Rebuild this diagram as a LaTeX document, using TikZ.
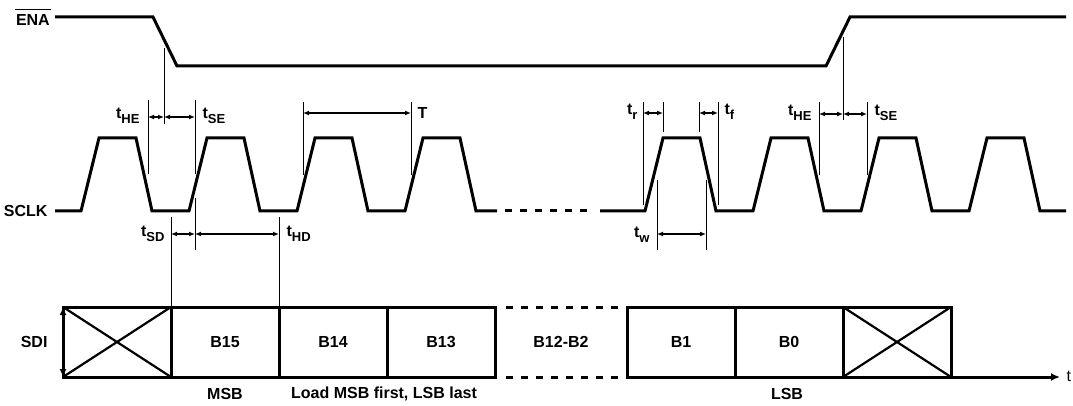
\documentclass[tikz,border=0pt]{standalone}
\usepackage{fontspec}
\setmainfont{Liberation Sans}
\usetikzlibrary{arrows.meta}
\newcommand{\tsub}[1]{t\raisebox{-0.32em}{\fontsize{13}{14}\selectfont #1}}

\begin{document}
\begin{tikzpicture}[x=1pt,y=-1pt,>={Latex[length=6pt,width=5pt]},
  font=\fontsize{16}{18}\selectfont\bfseries,
  sig/.style={line width=3pt},
  gap/.style={line width=3pt,dash pattern=on 7pt off 8pt},
  guide/.style={line width=0.8pt},
  span/.style={<->,line width=1.6pt},
  cell/.style={draw,line width=3pt,minimum width=108pt,minimum height=70pt,inner sep=0pt,outer sep=0pt}]
  \useasboundingbox (0,0) rectangle (1073,406);

  \node[anchor=east,inner sep=1pt] (ena) at (51,20) {ENA};
  \draw[line width=1.3pt] ([yshift=3.5pt]ena.north west) -- ([yshift=3.5pt]ena.north east);
  \node[anchor=east] (sclk) at (51,211) {SCLK};
  \node[anchor=east] (sdi) at (51,342) {SDI};

  \draw[sig] (55,17) -- (153,17) -- (177,66) -- (826,66) -- (850,17) -- (1066,17);
  \draw[sig] (55,211) foreach \r in {81,189,297,405} {-- (\r,211) -- (\r+18,138) -- (\r+55,138) -- (\r+71,211)} -- (497,211);
  \draw[gap] (505,211) -- (592,211);
  \draw[sig] (600,211) foreach \r in {645,753,861,969} {-- (\r,211) -- (\r+18,138) -- (\r+55,138) -- (\r+71,211)} -- (1066,211);

  \draw[guide] (164,48) -- (164,124);
  \draw[guide] (148,100) -- (148,174);
  \draw[guide] (195,100) -- (195,174);
  \coordinate (he1) at (148,117);
  \coordinate (en1) at (164,117);
  \coordinate (se1) at (195,117);
  \draw[span] (he1) -- (en1);
  \draw[span] (en1) -- (se1);
  \node[anchor=east] (the1) at (143,116) {\tsub{HE}};
  \node[anchor=west] (tse1) at (199,116) {\tsub{SE}};

  \draw[guide] (303,102) -- (303,175);
  \draw[guide] (411,102) -- (411,175);
  \coordinate (p1) at (303,113);
  \coordinate (p2) at (411,113);
  \draw[span] (p1) -- (p2);
  \node[anchor=west] (per) at (414,113) {T};

  \draw[guide] (643,102) -- (643,205);
  \draw[guide] (663,102) -- (663,132);
  \draw[guide] (699,102) -- (699,132);
  \draw[guide] (718,102) -- (718,205);
  \coordinate (r1) at (643,113);
  \coordinate (r2) at (663,113);
  \coordinate (f1) at (699,113);
  \coordinate (f2) at (718,113);
  \draw[span] (r1) -- (r2);
  \draw[span] (f1) -- (f2);
  \node[anchor=east] (tr) at (641,112) {\tsub{r}};
  \node[anchor=west] (tf) at (721,112) {\tsub{f}};

  \draw[guide] (657,180) -- (657,250);
  \draw[guide] (706,180) -- (706,250);
  \coordinate (w1) at (657,234);
  \coordinate (w2) at (706,234);
  \draw[span] (w1) -- (w2);
  \node[anchor=east] (tw) at (653,235) {\tsub{w}};

  \draw[guide] (843,37) -- (843,120);
  \draw[guide] (819,102) -- (819,175);
  \draw[guide] (867,102) -- (867,175);
  \coordinate (he2) at (819,114);
  \coordinate (en2) at (843,114);
  \coordinate (se2) at (867,114);
  \draw[span] (he2) -- (en2);
  \draw[span] (en2) -- (se2);
  \node[anchor=east] (the2) at (815,113) {\tsub{HE}};
  \node[anchor=west] (tse2) at (871,113) {\tsub{SE}};

  \node[cell] (x0) at (117,342) {};
  \node[cell] (b15) at (225,342) {B15};
  \node[cell] (b14) at (333,342) {B14};
  \node[cell] (b13) at (441,342) {B13};
  \node (b12) at (561,342) {B12-B2};
  \node[cell] (b1) at (681,342) {B1};
  \node[cell] (b0) at (789,342) {B0};
  \node[cell] (x1) at (897,342) {};
  \draw[line width=2.2pt] (x0.north west) -- (x0.south east) (x0.south west) -- (x0.north east);
  \draw[line width=2.2pt] (x1.north west) -- (x1.south east) (x1.south west) -- (x1.north east);
  \draw[gap] ([xshift=11pt]b13.north east) -- (b1.north west);
  \draw[gap] ([xshift=11pt]b13.south east) -- (b1.south west);
  \draw[line width=1.6pt,{Latex[length=8pt,width=7pt]}-{Latex[length=8pt,width=7pt]}] (x0.north west) -- (x0.south west);
  \coordinate (tend) at (1060,377);
  \draw[sig,-{Latex[length=9pt,width=8pt]}] (b1.south west) -- (tend);
  \node[anchor=west,font=\fontsize{16}{18}\selectfont\mdseries] (t) at (1063,376) {t};

  \draw[guide] (b15.north west) -- (171,217);
  \draw[guide] (b15.north east) -- (279,217);
  \draw[guide] (195,198) -- (195,250);
  \coordinate (sd1) at (171,234);
  \coordinate (sd2) at (195,234);
  \coordinate (hd2) at (279,234);
  \draw[span] (sd1) -- (sd2);
  \draw[span] (sd2) -- (hd2);
  \node[anchor=east] (tsd) at (168,234) {\tsub{SD}};
  \node[anchor=west] (thd) at (283,234) {\tsub{HD}};

  \node (msb) at (225,394) {MSB};
  \node (load) at (384,394) {Load MSB first, LSB last};
  \node (lsb) at (787,394) {LSB};
\end{tikzpicture}
\end{document}
